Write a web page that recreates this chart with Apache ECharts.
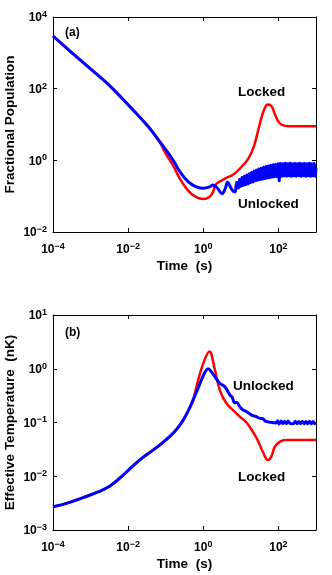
<!DOCTYPE html>
<html>
<head>
<meta charset="utf-8">
<script src="https://cdn.jsdelivr.net/npm/echarts@6/dist/echarts.min.js"></script>
<style>
  html, body { margin: 0; padding: 0; background: #fff; }
  #chart { width: 332px; height: 575px; }
</style>
</head>
<body>
<div id="chart"></div>
<script>
// tick positions (log axes)
const timeTicks = [1e-4, 1e-2, 1, 100]
const popTicks = [1e-2, 1, 100, 1e4]
const tempTicks = [1e-3, 1e-2, 1e-1, 1, 10]

// (a) fractional population, locked
const popTimeLocked = [1e-4, 3.2e-4, 1e-3, 3.2e-3, 1e-2, 3.2e-2, 0.063, 0.1, 0.158, 0.25, 0.4, 0.63, 1, 1.41, 1.78, 2.14, 2.5, 4, 6.3, 10, 15.8, 22.4, 31.6, 41.7, 52.5, 66, 83, 105, 141, 200, 1000]
const popLocked = [2950, 1000, 355, 122, 35.5, 9.5, 3.8, 1.55, 0.71, 0.28, 0.14, 0.095, 0.083, 0.093, 0.126, 0.21, 0.24, 0.32, 0.4, 0.63, 1.12, 2.5, 10, 26, 36, 32, 18, 11.2, 9.3, 8.9, 8.9]

// (a) fractional population, unlocked: smooth part, then the noisy band
const popTimeUnlocked = [1e-4, 3.2e-4, 1e-3, 3.2e-3, 1e-2, 3.2e-2, 0.063, 0.1, 0.158, 0.25, 0.4, 0.63, 1, 1.41, 1.82, 2.4, 3.16, 3.8, 4.47, 5.6, 6.9, 7.5, 8]
const popUnlocked = [2950, 1000, 355, 122, 35.5, 9.5, 3.8, 2.0, 1.0, 0.45, 0.25, 0.186, 0.166, 0.178, 0.204, 0.166, 0.117, 0.16, 0.245, 0.16, 0.13, 0.2, 0.26]
const popTimeBand = [8, 8.6, 9.3, 10, 10.8, 11.6, 12.5, 13.5, 14.5, 15.6, 16.8, 18, 19.4, 21, 22.6, 24.3, 26, 28, 30, 32.5, 35, 37.6, 40.5, 43.5, 47, 50.5, 54.5, 58.5, 63, 68, 73, 78.5, 84.5, 91, 98,
  105, 113, 122, 131, 141, 152, 164, 176, 190, 204, 220, 237, 255, 275, 296, 318, 343, 369, 397, 428, 461, 496, 534, 575, 619, 667, 718, 773, 832, 896, 965, 1000]
const popBand = [0.26, 0.17, 0.29, 0.19, 0.33, 0.2, 0.36, 0.21, 0.39, 0.22, 0.42, 0.24, 0.46, 0.25, 0.5, 0.27, 0.53, 0.28, 0.57, 0.29, 0.6, 0.3, 0.64, 0.31, 0.67, 0.32, 0.7, 0.33, 0.73, 0.34, 0.75, 0.35, 0.77, 0.35, 0.8,
  0.27, 0.82, 0.36, 0.8, 0.37, 0.83, 0.36, 0.8, 0.37, 0.83, 0.36, 0.8, 0.37, 0.82, 0.36, 0.8, 0.37, 0.83, 0.36, 0.8, 0.37, 0.82, 0.36, 0.8, 0.37, 0.83, 0.36, 0.8, 0.37, 0.82, 0.36, 0.6]

// (b) effective temperature (nK), locked
const tempTimeLocked = [1e-4, 2.5e-4, 6.3e-4, 1.58e-3, 3.3e-3, 6.3e-3, 0.0112, 0.022, 0.047, 0.079, 0.129, 0.2, 0.295, 0.4, 0.537, 0.724, 1, 1.45, 2.04, 2.75, 4.07, 6.9, 9.3, 14.5, 26.3, 38.9, 52.5, 66, 79.4, 110, 158, 1000]
const tempLocked = [0.0027, 0.0032, 0.004, 0.0051, 0.0066, 0.0095, 0.0138, 0.021, 0.031, 0.041, 0.055, 0.076, 0.112, 0.166, 0.263, 0.6, 1.26, 2.1, 0.95, 0.4, 0.23, 0.158, 0.129, 0.098, 0.051, 0.028, 0.020, 0.024, 0.035, 0.044, 0.047, 0.047]

// (b) effective temperature (nK), unlocked: smooth part, then the noisy tail
const tempTimeUnlocked = [1e-4, 2.5e-4, 6.3e-4, 1.58e-3, 3.3e-3, 6.3e-3, 0.0112, 0.022, 0.047, 0.079, 0.129, 0.2, 0.295, 0.4, 0.537, 0.708, 0.891, 1.12, 1.35, 1.66, 2.04, 2.75, 3.72, 5.13, 5.8, 6.9, 7.6, 9.3]
const tempUnlocked = [0.0027, 0.0032, 0.004, 0.0051, 0.0066, 0.0095, 0.0138, 0.021, 0.031, 0.041, 0.055, 0.076, 0.112, 0.166, 0.263, 0.417, 0.617, 0.87, 1.0, 0.87, 0.71, 0.537, 0.468, 0.324, 0.3, 0.234, 0.235, 0.195]
const tempTimeTail = [9.3, 10.5, 11.5, 13, 14.5, 16, 18, 20, 22, 25, 28, 31, 35, 39, 44, 49, 55, 61, 68, 76, 85, 95,
  105, 118, 131, 146, 163, 182, 203, 226, 252, 281, 313, 349, 389, 434, 484, 540, 602, 671, 748, 834, 930, 1000]
const tempTail = [0.195, 0.19, 0.17, 0.165, 0.155, 0.15, 0.14, 0.135, 0.128, 0.13, 0.12, 0.12, 0.112, 0.118, 0.106, 0.112, 0.102, 0.11, 0.1, 0.108, 0.098, 0.107,
  0.094, 0.106, 0.096, 0.105, 0.095, 0.106, 0.096, 0.104, 0.095, 0.105, 0.095, 0.104, 0.095, 0.105, 0.095, 0.104, 0.095, 0.105, 0.095, 0.104, 0.095, 0.1]

const FONT = 'Liberation Sans'
const RED = '#ff0000'
const BLUE = '#0000ff'

function pairs(xs, ys) {
  return xs.map((x, i) => [x, ys[i]])
}

function powLabel(value) {
  const e = Math.round(Math.log10(value))
  return '{b|10}{s|' + String(e).replace('-', '\u2212') + '}'
}

const labelRich = {
  b: { fontFamily: FONT, fontWeight: 'bold', fontSize: 12, color: '#000', lineHeight: 14, verticalAlign: 'bottom' },
  s: { fontFamily: FONT, fontWeight: 'bold', fontSize: 9, color: '#000', lineHeight: 10, verticalAlign: 'top', padding: [0, 0, 7, 0] }
}

function logAxis(opt) {
  return {
    type: 'log',
    logBase: 10,
    gridIndex: opt.grid,
    position: opt.position,
    min: opt.min,
    max: opt.max,
    name: opt.name || '',
    nameLocation: 'middle',
    nameGap: opt.nameGap || 0,
    nameMoveOverlap: false,
    nameTextStyle: { fontFamily: FONT, fontWeight: 'bold', fontSize: 13.5, color: '#000' },
    axisLine: { show: true, onZero: false, lineStyle: { color: '#000', width: 1 } },
    axisTick: { show: true, inside: true, length: 4, customValues: opt.ticks, lineStyle: { color: '#000' } },
    axisLabel: {
      show: !!opt.labels,
      customValues: opt.ticks,
      margin: opt.margin || 8,
      formatter: powLabel,
      rich: labelRich
    },
    minorTick: { show: false },
    splitLine: { show: false }
  }
}

function curve(xIdx, yIdx, xs, ys, color, width, smooth) {
  return {
    type: 'line',
    xAxisIndex: xIdx,
    yAxisIndex: yIdx,
    showSymbol: false,
    smooth: smooth,
    lineStyle: { color: color, width: width, join: 'round' },
    data: pairs(xs, ys)
  }
}

const myChart = echarts.init(document.getElementById('chart'))
const option = {
  animation: false,
  backgroundColor: '#fff',
  grid: [
    { left: 53, top: 17, width: 263, height: 215, outerBoundsMode: 'none' },
    { left: 53, top: 315, width: 263, height: 215, outerBoundsMode: 'none' }
  ],
  xAxis: [
    logAxis({ grid: 0, position: 'bottom', min: 1e-4, max: 1e3, ticks: timeTicks, labels: true, name: 'Time  (s)', nameGap: 27, margin: 10 }),
    logAxis({ grid: 0, position: 'top', min: 1e-4, max: 1e3, ticks: timeTicks }),
    logAxis({ grid: 1, position: 'bottom', min: 1e-4, max: 1e3, ticks: timeTicks, labels: true, name: 'Time  (s)', nameGap: 27, margin: 10 }),
    logAxis({ grid: 1, position: 'top', min: 1e-4, max: 1e3, ticks: timeTicks })
  ],
  yAxis: [
    logAxis({ grid: 0, position: 'left', min: 1e-2, max: 1e4, ticks: popTicks, labels: true, name: 'Fractional Population', nameGap: 36, margin: 6 }),
    logAxis({ grid: 0, position: 'right', min: 1e-2, max: 1e4, ticks: popTicks }),
    logAxis({ grid: 1, position: 'left', min: 1e-3, max: 10, ticks: tempTicks, labels: true, name: 'Effective Temperature  (nK)', nameGap: 36, margin: 6 }),
    logAxis({ grid: 1, position: 'right', min: 1e-3, max: 10, ticks: tempTicks })
  ],
  graphic: [
    { type: 'text', left: 65, top: 27, style: { text: '(a)', font: 'bold 12px "Liberation Sans"', fill: '#000' } },
    { type: 'text', left: 238, top: 85, style: { text: 'Locked', font: 'bold 13.5px "Liberation Sans"', fill: '#000' } },
    { type: 'text', left: 238, top: 197, style: { text: 'Unlocked', font: 'bold 13.5px "Liberation Sans"', fill: '#000' } },
    { type: 'text', left: 65, top: 327, style: { text: '(b)', font: 'bold 12px "Liberation Sans"', fill: '#000' } },
    { type: 'text', left: 233, top: 379, style: { text: 'Unlocked', font: 'bold 13.5px "Liberation Sans"', fill: '#000' } },
    { type: 'text', left: 238, top: 470, style: { text: 'Locked', font: 'bold 13.5px "Liberation Sans"', fill: '#000' } }
  ],
  series: [
    curve(0, 0, popTimeLocked, popLocked, RED, 2.5, 0.4),
    curve(0, 0, popTimeUnlocked, popUnlocked, BLUE, 3, 0.4),
    curve(0, 0, popTimeBand, popBand, BLUE, 3, false),
    curve(2, 2, tempTimeLocked, tempLocked, RED, 2.5, 0.4),
    curve(2, 2, tempTimeUnlocked, tempUnlocked, BLUE, 3, 0.4),
    curve(2, 2, tempTimeTail, tempTail, BLUE, 3, false)
  ]
}

myChart.setOption(option)
window.addEventListener('resize', function() {
  myChart.resize()
})
</script>
</body>
</html>
